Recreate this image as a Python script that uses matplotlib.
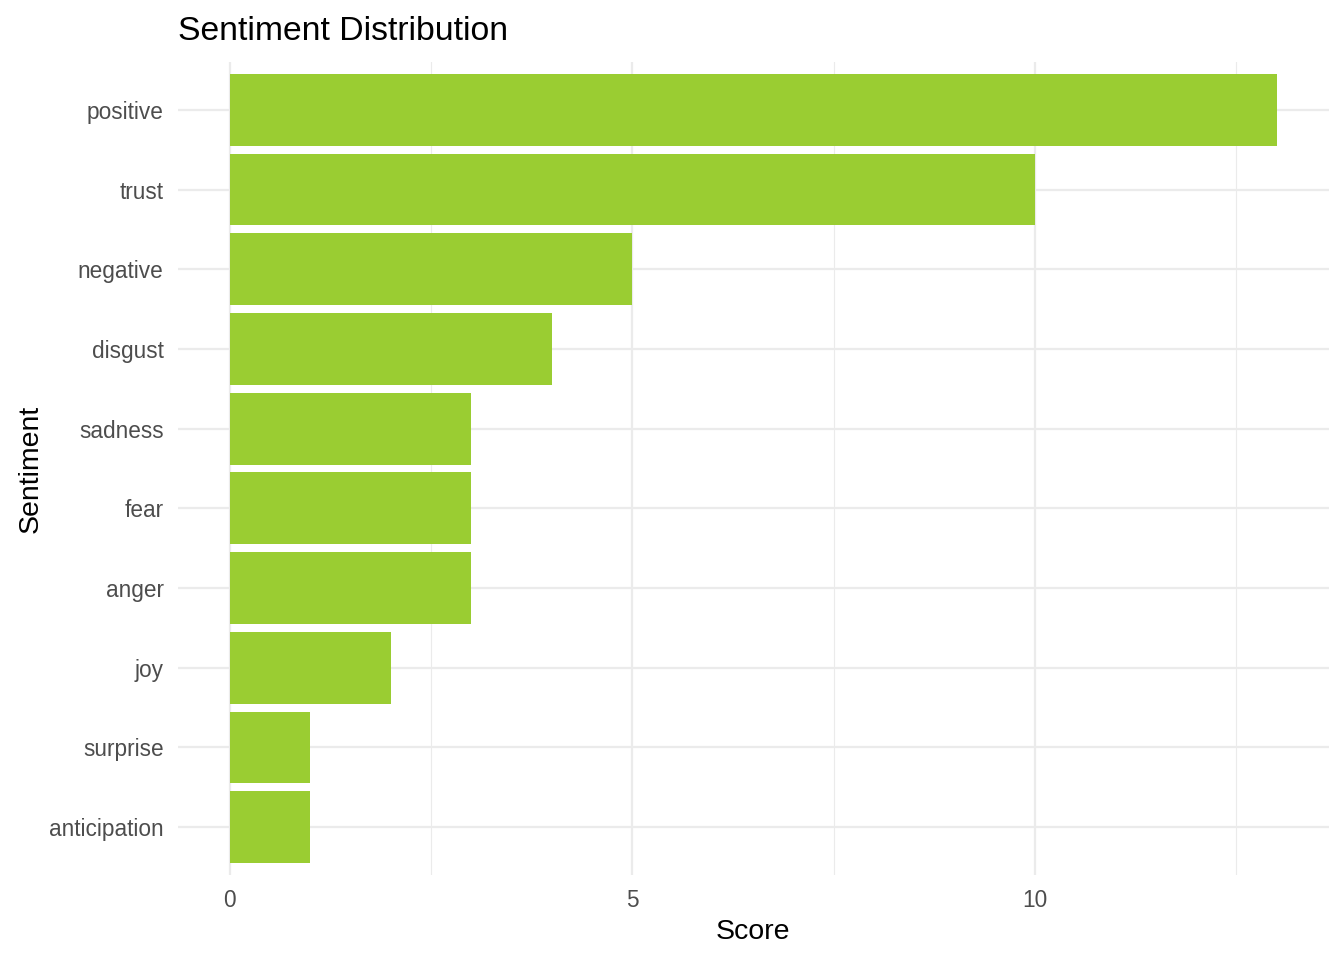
import matplotlib
matplotlib.use("Agg")
import matplotlib.pyplot as plt
from matplotlib.ticker import MultipleLocator

plt.rcParams['font.family'] = ['Liberation Sans', 'DejaVu Sans']

categories = ["positive", "trust", "negative", "disgust", "sadness",
              "fear", "anger", "joy", "surprise", "anticipation"]
scores = [13, 10, 5, 4, 3, 3, 3, 2, 1, 1]
x_ticks = [0, 5, 10]

fig = plt.figure(figsize=(13.44, 9.6), dpi=100)
W, H = 1344, 960
left, right, top, bottom = 177.5, 1329, 62, 875
ax = fig.add_axes([left / W, 1 - bottom / H, (right - left) / W, (bottom - top) / H])

n = len(categories)
ypos = [n - 1 - i for i in range(n)]
ax.barh(ypos, scores, height=0.9, color="#9ACD32", zorder=2)

ax.set_xlim(-0.65, 13.65)
ax.set_ylim(-0.6, n - 1 + 0.6)
ax.set_xticks(x_ticks)
ax.xaxis.set_minor_locator(MultipleLocator(2.5))
ax.set_yticks(ypos)
ax.set_yticklabels(categories)

ax.grid(True, which="major", color="#EBEBEB", linewidth=1.6, zorder=0)
ax.grid(True, which="minor", axis="x", color="#EBEBEB", linewidth=0.8, zorder=0)
ax.set_axisbelow(True)
for s in ax.spines.values():
    s.set_visible(False)
ax.tick_params(axis="both", which="both", length=0, labelsize=16.3, labelcolor="#4D4D4D")
ax.tick_params(axis="x", pad=10)
ax.tick_params(axis="y", pad=10)

ax.set_xlabel("Score", fontsize=20.5, labelpad=5)
ax.set_ylabel("Sentiment", fontsize=20.5, labelpad=4)
fig.text(178 / W, 1 - 31 / H, "Sentiment Distribution", fontsize=24.3, va="center", ha="left")

fig.savefig("out.png", dpi=100)
